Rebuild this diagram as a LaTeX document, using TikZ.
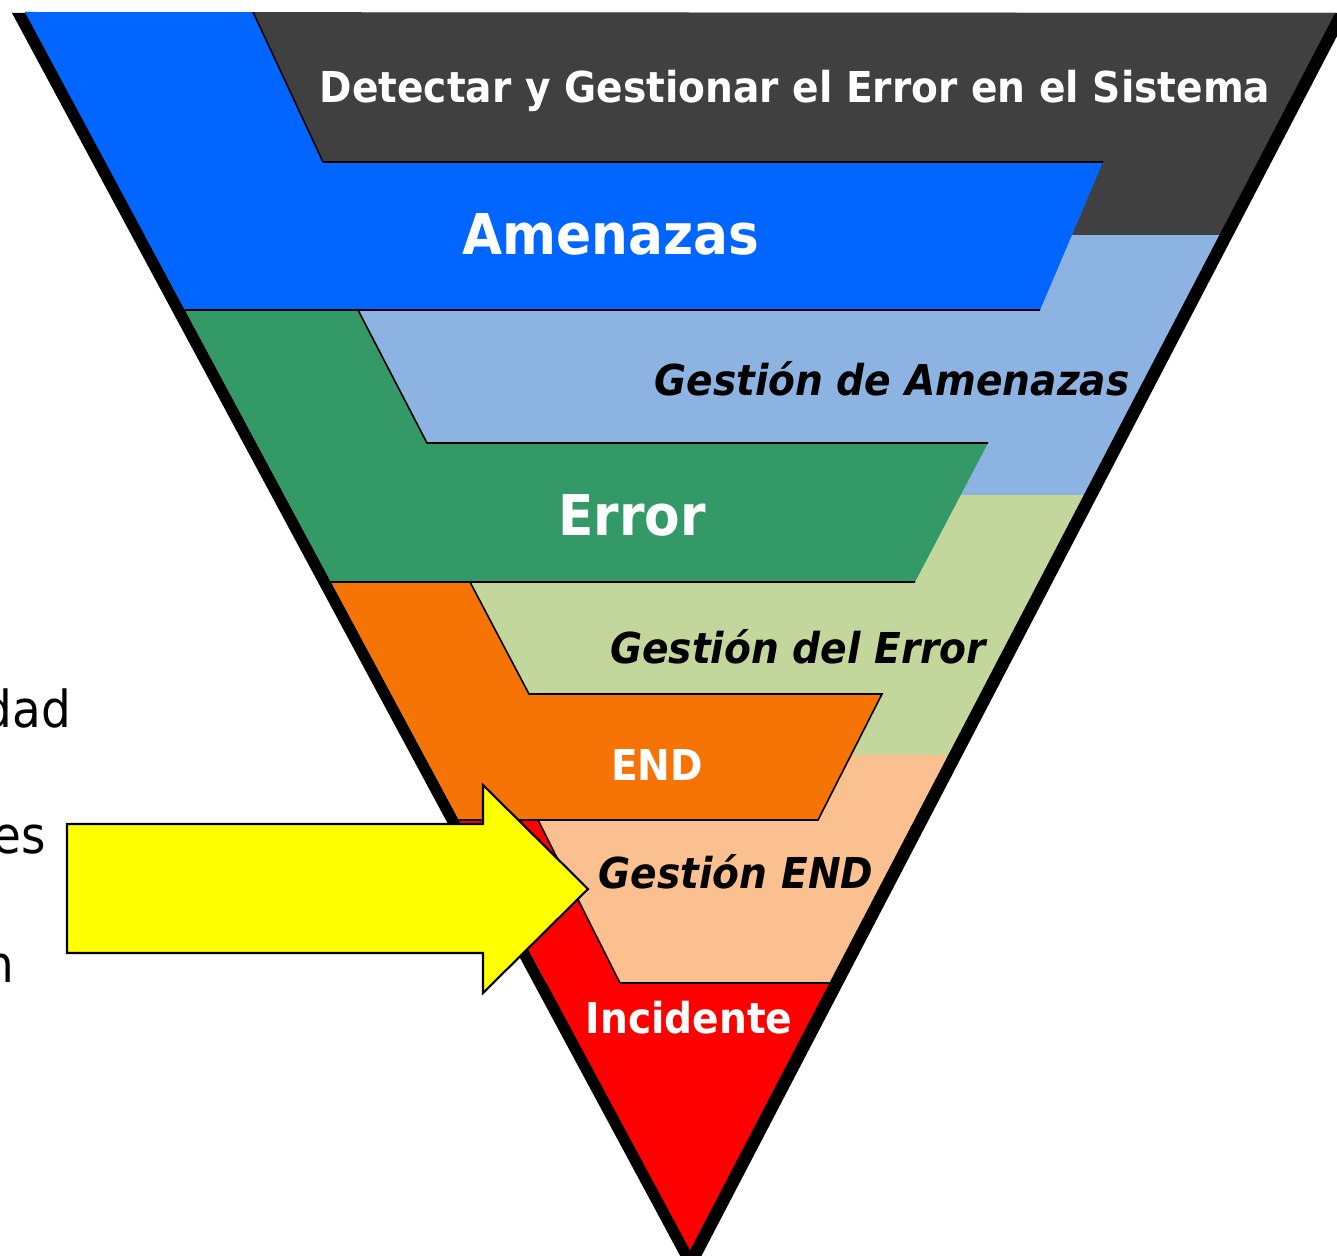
\documentclass[tikz,border=0pt]{standalone}
\usepackage{fontspec}
\newfontfamily\bandfont[FakeStretch=0.92]{DejaVu Sans}
\definecolor{bandgray}{HTML}{404040}
\definecolor{bandblue}{HTML}{0066FF}
\definecolor{bandltblue}{HTML}{8DB3E2}
\definecolor{bandgreen}{HTML}{339966}
\definecolor{bandltgreen}{HTML}{C3D69B}
\definecolor{bandorange}{HTML}{F67406}
\definecolor{bandpeach}{HTML}{FAC08F}
\definecolor{bandred}{HTML}{FF0000}
\definecolor{arrowyellow}{HTML}{FFFF00}

\begin{document}
\begin{tikzpicture}[x=0.01cm,y=-0.01cm,
    stepline/.style={line width=0.45pt,black},
    whitelbl/.style={anchor=base,inner sep=0pt,text=white,font=\bandfont\bfseries\fontsize{12.1}{15}\selectfont},
    biglbl/.style={whitelbl,font=\bandfont\bfseries\fontsize{16}{19}\selectfont},
    blacklbl/.style={anchor=base,inner sep=0pt,text=black,font=\bandfont\bfseries\itshape\fontsize{12.1}{15}\selectfont},
    sidelbl/.style={anchor=base east,inner sep=0pt,text=black,font=\bandfont\fontsize{14.5}{17}\selectfont}]
    \useasboundingbox (0,0) rectangle (1337,1255);
    \clip (0,0) rectangle (1337,1255);
    \fill[black] (12,13)--(1349,13)--(691,1276)--cycle;
    \begin{scope}
        \clip (25,12)--(1335,13)--(690,1250)--cycle;
        \fill[bandgray] (0,0) rectangle (1337,235);
        \fill[bandltblue] (0,235) rectangle (1337,495);
        \fill[bandltgreen] (0,495) rectangle (1337,755);
        \fill[bandpeach] (0,755) rectangle (1337,983);
        \fill[bandblue] (0,0)--(247,0)--(323,162)--(1103,162)--(1040,310)--(0,310)--cycle;
        \fill[bandgreen] (0,310)--(358,310)--(427,443)--(988,443)--(915,582)--(0,582)--cycle;
        \fill[bandorange] (0,582)--(470,582)--(529,694)--(882,694)--(818,820)--(0,820)--cycle;
        \fill[bandred] (0,820)--(538,820)--(620,983)--(1337,983)--(1337,1255)--(0,1255)--cycle;
        \draw[stepline] (253,12)--(323,162)--(1103,162) (0,310)--(1040,310);
        \draw[stepline] (358,310)--(427,443)--(988,443) (0,582)--(915,582);
        \draw[stepline] (470,582)--(529,694)--(882,694)--(818,820)--(0,820);
        \draw[stepline] (538,820)--(620,983)--(1337,983);
    \end{scope}
    \draw[fill=arrowyellow,line width=0.6pt,line join=miter] (67,824)--(483,824)--(483,785)--(588,889)--(483,993)--(483,953)--(67,953)--cycle;
    \node[whitelbl] (detectar) at (795,103) {Detectar y Gestionar el Error en el Sistema};
    \node[biglbl] (amenazas) at (611,255) {Amenazas};
    \node[blacklbl] (gestamen) at (892,395) {Gestión de Amenazas};
    \node[biglbl] (error) at (632,535) {Error};
    \node[blacklbl] (gesterror) at (798,663) {Gestión del Error};
    \node[whitelbl] (endlbl) at (657,780) {END};
    \node[blacklbl] (gestend) at (736,888) {Gestión END};
    \node[whitelbl] (incidente) at (689,1033) {Incidente};
    \node[sidelbl] (dad) at (72,727) {dad};
    \node[sidelbl] (es) at (47,853) {es};
    \node[sidelbl] (n) at (15,982) {n};
\end{tikzpicture}
\end{document}
